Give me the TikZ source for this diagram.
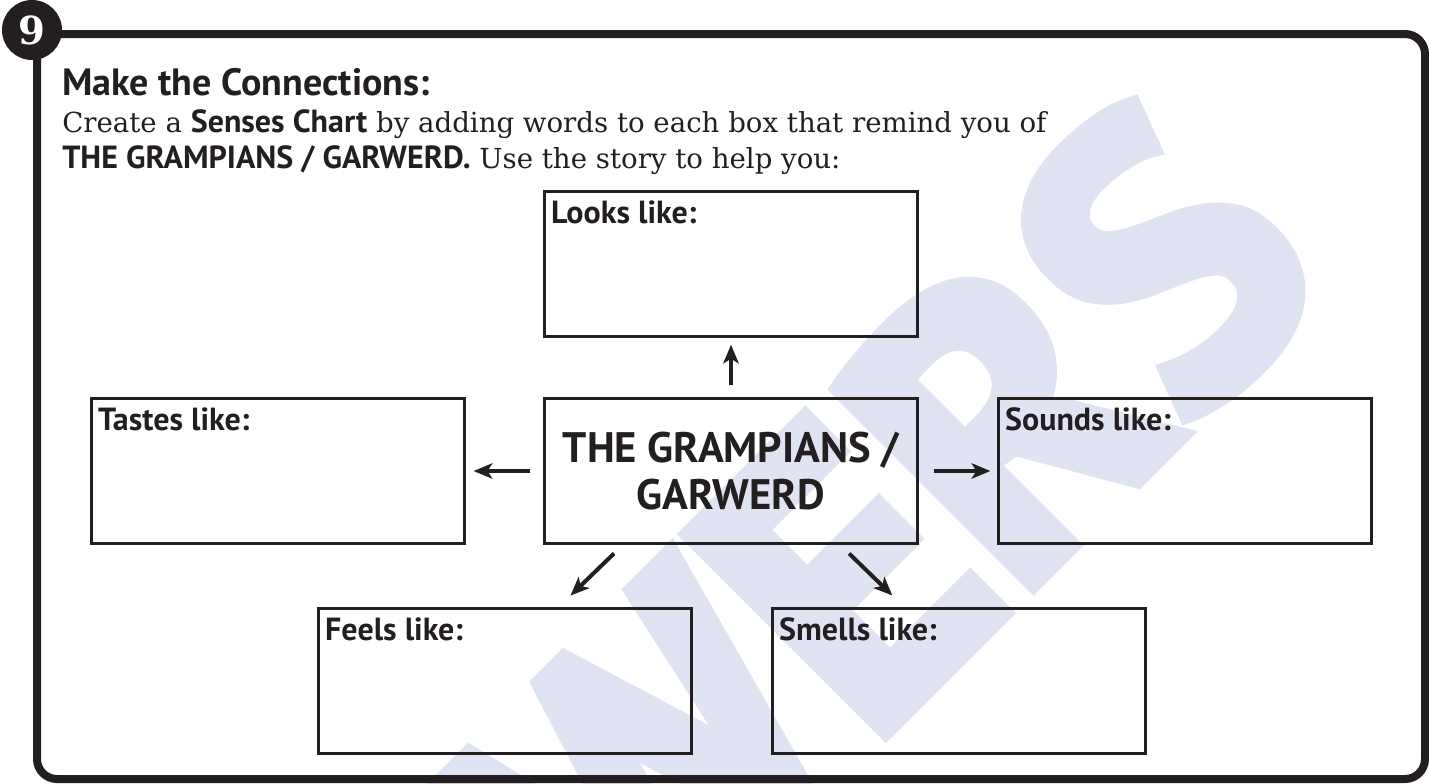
\documentclass[tikz,border=0pt]{standalone}
\usepackage{fontspec}
\usepackage{tikz}
\usetikzlibrary{arrows.meta, calc}
\setmainfont{DejaVu Serif}
\newfontfamily\chartsans{PT Sans}
\newfontfamily\markfont[BoldFeatures={FakeBold=4}]{PT Sans}
\definecolor{ink}{RGB}{35,31,32}
\definecolor{markblue}{RGB}{224,228,242}

\begin{document}
\begin{tikzpicture}[x=0.75pt,y=-0.75pt, every node/.style={text=ink},
  sensebox/.style={draw=ink, line width=2.2pt, minimum width=280pt, minimum height=109pt, inner sep=0pt},
  sensetag/.style={anchor=north west, inner sep=0pt, font=\chartsans\bfseries\fontsize{24}{28}\selectfont},
  sensearrow/.style={draw=ink, line width=3pt, -{Stealth[length=14pt,width=11.5pt,inset=3.5pt]}},
  bodytext/.style={anchor=base west, inner sep=0pt, font=\fontsize{20.7}{27}\selectfont}]
\useasboundingbox (0,0) rectangle (1429,783);
\begin{scope}
\clip (0,0) rectangle (1429,783);
\node[rotate=45, anchor=east, inner sep=0pt, text=markblue, font=\markfont\bfseries\fontsize{300}{300}\selectfont] (answers) at (1238,182) {ANSWERS};
\end{scope}
\draw[line width=6pt, rounded corners=15pt, draw=ink] (37,34) rectangle (1425,779);
\node[circle, fill=ink, minimum size=45pt, inner sep=0pt, text=white, font=\bfseries\fontsize{29}{29}\selectfont] (badge) at (32,30) {9};
\node[anchor=base west, inner sep=0pt, font=\chartsans\bfseries\fontsize{28.5}{32}\selectfont] (title) at (62,95) {Make the Connections:};
\node[bodytext] (intro) at (62,132) {Create a {\chartsans\bfseries\fontsize{24}{27}\selectfont Senses Chart} by adding words to each box that remind you of};
\node[bodytext] (introtwo) at (62,168) {{\chartsans\bfseries\fontsize{24}{27}\selectfont THE GRAMPIANS / GARWERD.} Use the story to help you:};
\node[sensebox] (looks) at (731,264) {};
\node[sensebox] (tastes) at (278,471) {};
\node[sensebox, align=center, font=\chartsans\bfseries\fontsize{32}{35}\selectfont] (hub) at (731,471) {THE GRAMPIANS /\\GARWERD};
\node[sensebox] (sounds) at (1185,471) {};
\node[sensebox] (feels) at (505,681) {};
\node[sensebox] (smells) at (959,681) {};
\node[sensetag] (looks-tag) at ([xshift=6pt,yshift=-8pt]looks.north west) {Looks like:};
\node[sensetag] (tastes-tag) at ([xshift=6pt,yshift=-8pt]tastes.north west) {Tastes like:};
\node[sensetag] (sounds-tag) at ([xshift=6pt,yshift=-8pt]sounds.north west) {Sounds like:};
\node[sensetag] (feels-tag) at ([xshift=6pt,yshift=-8pt]feels.north west) {Feels like:};
\node[sensetag] (smells-tag) at ([xshift=6pt,yshift=-8pt]smells.north west) {Smells like:};
\draw[sensearrow, shorten <=8.6pt, shorten >=4.9pt] (hub.north) -- (looks.south);
\draw[sensearrow, shorten <=9.4pt, shorten >=5.6pt] (hub.west) -- (tastes.east);
\draw[sensearrow, shorten <=10.9pt, shorten >=4.9pt] (hub.east) -- (sounds.west);
\draw[sensearrow, shorten <=9pt, shorten >=12.2pt] ($(hub.south west)!0.212!(hub.south east)$) -- ($(feels.north west)!0.643!(feels.north east)$);
\draw[sensearrow, shorten <=9pt, shorten >=12.2pt] ($(hub.south west)!0.791!(hub.south east)$) -- ($(smells.north west)!0.354!(smells.north east)$);
\end{tikzpicture}
\end{document}
